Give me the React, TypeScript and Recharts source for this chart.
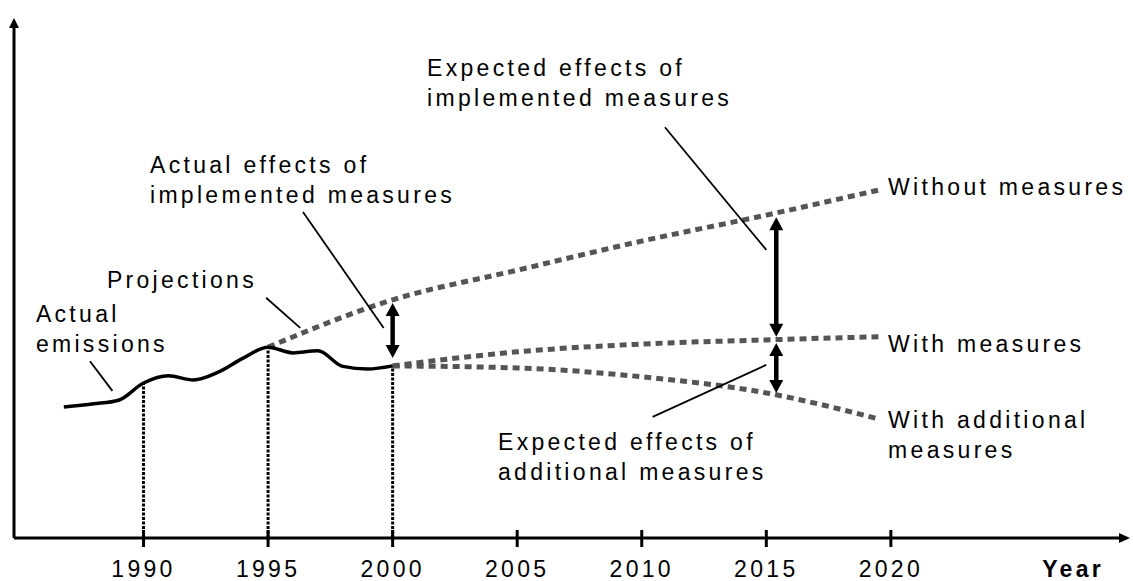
import { ComposedChart, Line, XAxis, YAxis, ReferenceLine, ReferenceDot } from 'recharts';

const FONT = '"Liberation Sans", Arial, Helvetica, sans-serif';

// horizontal axis
const xDomain = [1984.8, 2029.6];
const yDomain = [0, 100];
const yearTicks = [1990, 1995, 2000, 2005, 2010, 2015, 2020];

// actual emissions (index)
const actualYears = [1986.8, 1988, 1989, 1990, 1991, 1992, 1993, 1994, 1995, 1996, 1997, 1998, 1999, 2000];
const actualValues = [25.2, 25.8, 26.5, 29.8, 31.2, 30.4, 31.9, 34.6, 36.7, 35.6, 36.0, 33.0, 32.5, 33.1];

// projections
const withoutYears = [1995, 2000, 2005, 2010, 2015, 2019.5];
const withoutValues = [36.7, 45.8, 51.5, 57.1, 62.1, 66.9];
const projYears = [2000, 2005, 2010, 2015, 2019.5];
const withValues = [33.1, 35.8, 37.3, 38.1, 38.7];
const additionalValues = [33.1, 32.7, 31.0, 27.9, 22.9];

// years with dotted drop lines
const dropYears = [1990, 1995, 2000];

// double arrows showing effects
const arrowYears = [2000, 2015.4, 2015.4];
const arrowLow = [34.6, 38.7, 27.9];
const arrowHigh = [45.2, 61.7, 37.5];

// thin leader lines from labels
const leaderFromYear = [1987.85, 1994.92, 1996.4, 2010.93, 2010.44];
const leaderFromValue = [34.0, 46.2, 62.7, 79.0, 23.3];
const leaderToYear = [1988.75, 1996.29, 1999.64, 2015.0, 2015.0];
const leaderToValue = [28.3, 40.4, 40.4, 55.4, 33.3];

// text labels
const labelLines = [
  ['Actual', 'emissions'],
  ['Projections'],
  ['Actual effects of', 'implemented measures'],
  ['Expected effects of', 'implemented measures'],
  ['Without measures'],
  ['With measures'],
  ['With additional', 'measures'],
  ['Expected effects of', 'additional measures'],
];
const labelYears = [1985.68, 1988.53, 1990.26, 2001.38, 2019.89, 2019.89, 2019.89, 2004.23];
const labelValues = [41.5, 48.1, 70.2, 88.8, 66.0, 35.8, 21.2, 16.9];

const toPoints = (years: number[], values: number[]) => years.map((year, i) => ({ year, v: values[i] }));
const valueAt = (year: number) => actualValues[actualYears.indexOf(year)];

const TEXT = { fontFamily: FONT, fontSize: 23, letterSpacing: 3.3, fill: '#000' };

function arrowShape(width: number, head: number, half: number, double: boolean) {
  return (p: any) => {
    const { x1, y1, x2, y2 } = p;
    const a = Math.atan2(y2 - y1, x2 - x1);
    const c = Math.cos(a);
    const s = Math.sin(a);
    const tri = (x: number, y: number, dir: number) => {
      const bx = x - dir * head * c;
      const by = y - dir * head * s;
      return `${x},${y} ${bx - s * half},${by + c * half} ${bx + s * half},${by - c * half}`;
    };
    const sx = double ? x1 + (head - 1) * c : x1;
    const sy = double ? y1 + (head - 1) * s : y1;
    return (
      <g>
        <line x1={sx} y1={sy} x2={x2 - (head - 1) * c} y2={y2 - (head - 1) * s} stroke="#000" strokeWidth={width} />
        <polygon points={tri(x2, y2, 1)} fill="#000" />
        {double && <polygon points={tri(x1, y1, -1)} fill="#000" />}
      </g>
    );
  };
}

const labelShape = (lines: string[]) => (p: any) => (
  <text x={p.cx} y={p.cy} {...TEXT}>
    {lines.map((t, i) => (
      <tspan key={i} x={p.cx} dy={i === 0 ? 0 : 30}>
        {t}
      </tspan>
    ))}
  </text>
);

const YearTick = ({ x, y, payload }: any) => (
  <g>
    <line x1={x} x2={x} y1={y - 8} y2={y + 9} stroke="#000" strokeWidth={3} />
    <text x={x} y={y + 39} textAnchor="middle" {...TEXT}>
      {payload.value}
    </text>
  </g>
);

const YearLabel = ({ viewBox }: any) => (
  <text x={viewBox.x + viewBox.width - 26} y={viewBox.y + 39} textAnchor="end" {...TEXT} fontWeight="bold">
    Year
  </text>
);

export default function App() {
  return (
    <div style={{ position: 'absolute', left: 0, top: 0, background: '#fff' }}>
      <ComposedChart width={1133} height={581} margin={{ top: 18, right: 3, left: 14, bottom: 0 }}>
        <XAxis
          dataKey="year"
          type="number"
          domain={xDomain}
          ticks={yearTicks}
          allowDataOverflow
          axisLine={false}
          tickLine={false}
          tickSize={0}
          tickMargin={0}
          height={43}
          tick={<YearTick />}
          label={{ content: <YearLabel /> }}
        />
        <YAxis type="number" domain={yDomain} allowDataOverflow hide />

        {/* axes with arrow heads */}
        <ReferenceLine
          segment={[{ x: xDomain[0], y: yDomain[0] }, { x: xDomain[1], y: yDomain[0] }]}
          ifOverflow="visible"
          shape={arrowShape(3, 11, 5, false)}
        />
        <ReferenceLine
          segment={[{ x: xDomain[0], y: yDomain[0] }, { x: xDomain[0], y: yDomain[1] }]}
          ifOverflow="visible"
          shape={arrowShape(3, 10, 5, false)}
        />

        {/* dotted drop lines */}
        {dropYears.map((yr) => (
          <ReferenceLine
            key={`d${yr}`}
            segment={[{ x: yr, y: 0 }, { x: yr, y: valueAt(yr) }]}
            ifOverflow="visible"
            stroke="#000"
            strokeWidth={3}
            strokeDasharray="3 1.5"
          />
        ))}

        {/* projections */}
        <Line data={toPoints(withoutYears, withoutValues)} dataKey="v" type="monotone" stroke="#555" strokeWidth={5} strokeDasharray="7 5" dot={false} activeDot={false} isAnimationActive={false} />
        <Line data={toPoints(projYears, withValues)} dataKey="v" type="monotone" stroke="#555" strokeWidth={5} strokeDasharray="7 5" dot={false} activeDot={false} isAnimationActive={false} />
        <Line data={toPoints(projYears, additionalValues)} dataKey="v" type="monotone" stroke="#555" strokeWidth={5} strokeDasharray="7 5" dot={false} activeDot={false} isAnimationActive={false} />

        {/* actual emissions */}
        <Line data={toPoints(actualYears, actualValues)} dataKey="v" type="monotone" stroke="#000" strokeWidth={3.5} dot={false} activeDot={false} isAnimationActive={false} />

        {/* leader lines */}
        {leaderFromYear.map((yr, i) => (
          <ReferenceLine
            key={`l${i}`}
            segment={[{ x: yr, y: leaderFromValue[i] }, { x: leaderToYear[i], y: leaderToValue[i] }]}
            ifOverflow="visible"
            stroke="#000"
            strokeWidth={1.8}
          />
        ))}

        {/* effect arrows */}
        {arrowYears.map((yr, i) => (
          <ReferenceLine
            key={`a${i}`}
            segment={[{ x: yr, y: arrowLow[i] }, { x: yr, y: arrowHigh[i] }]}
            ifOverflow="visible"
            shape={arrowShape(4.5, 13, 7, true)}
          />
        ))}

        {/* labels */}
        {labelLines.map((lines, i) => (
          <ReferenceDot
            key={`t${i}`}
            x={labelYears[i]}
            y={labelValues[i]}
            r={0}
            ifOverflow="visible"
            shape={labelShape(lines)}
          />
        ))}
      </ComposedChart>
    </div>
  );
}
